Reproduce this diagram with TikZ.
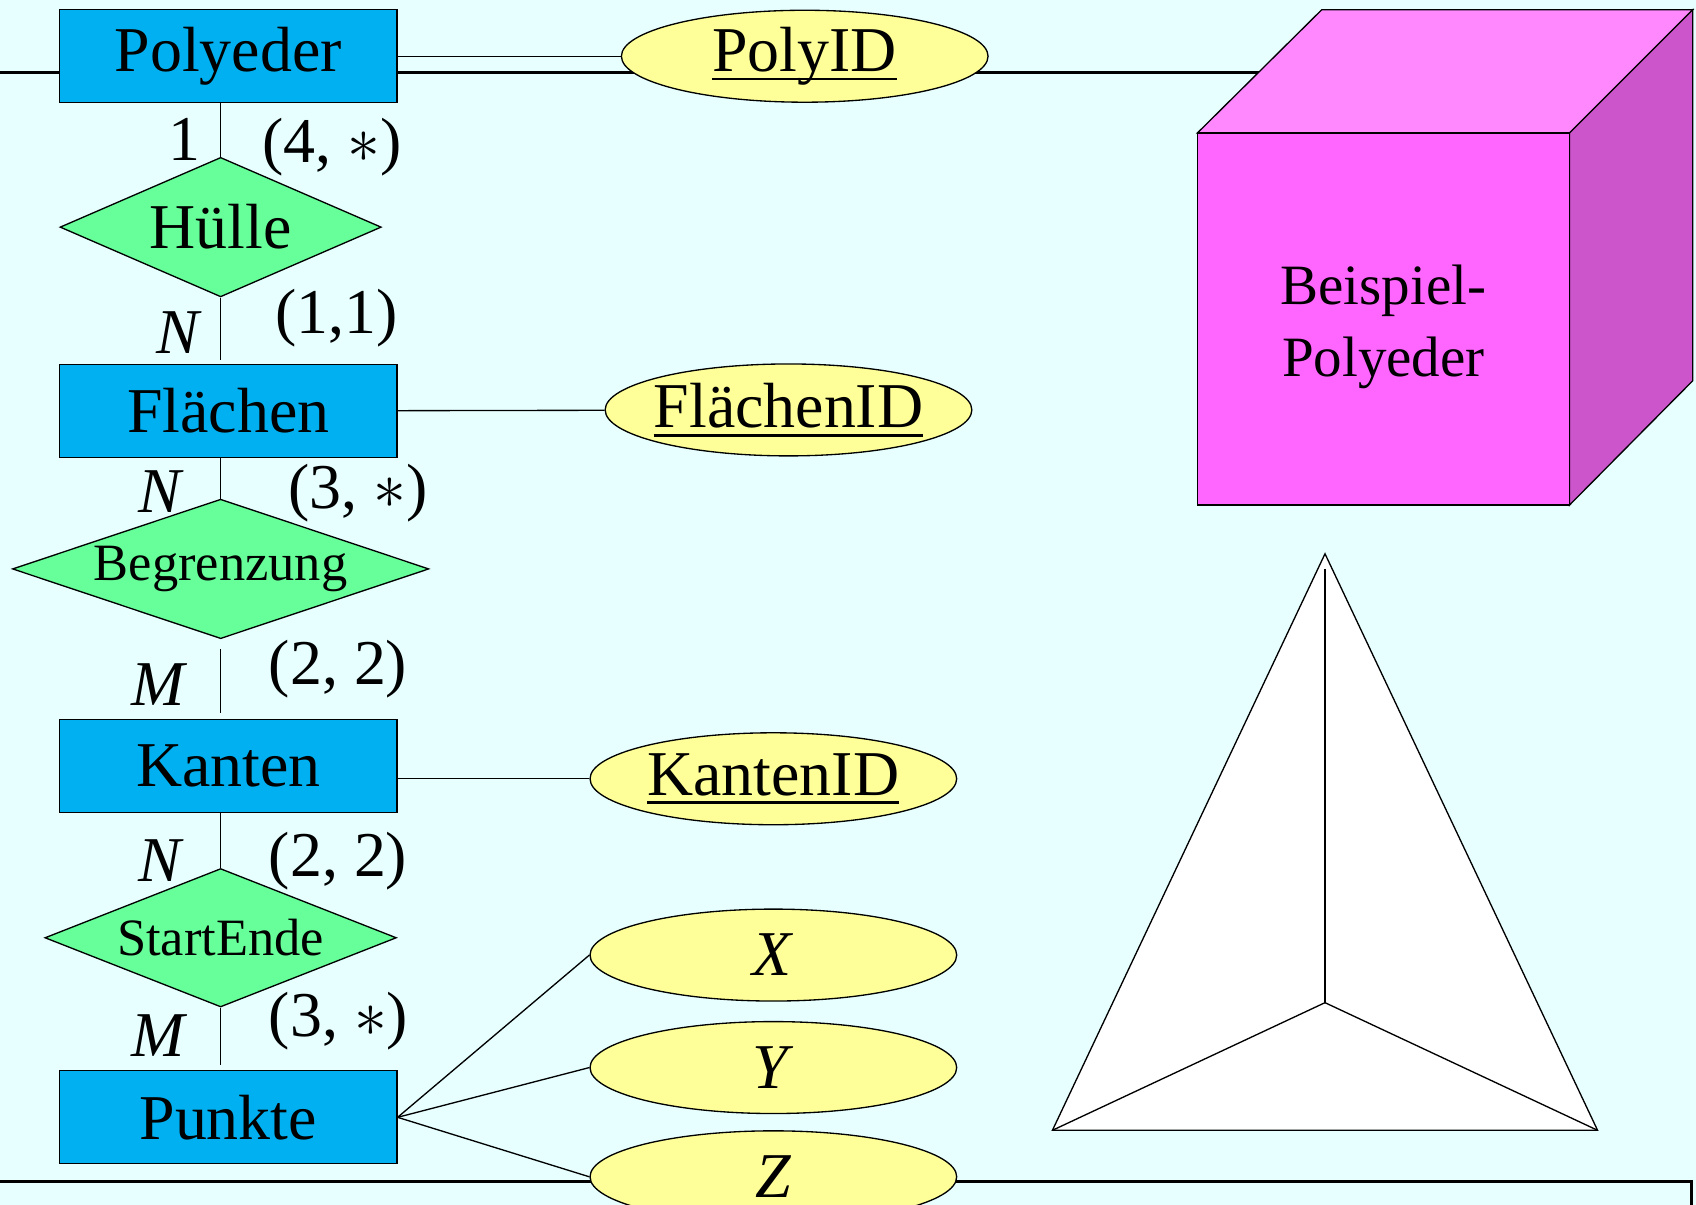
\documentclass[tikz,border=0pt]{standalone}
\usepackage{fontspec}
\setmainfont{Liberation Serif}
\usetikzlibrary{shapes.geometric}
\definecolor{slidebg}{HTML}{E8FFFF}
\definecolor{entblue}{HTML}{00B0F0}
\definecolor{relgreen}{HTML}{66FF99}
\definecolor{attryellow}{HTML}{FFFF99}
\definecolor{cubefront}{HTML}{FF66FF}
\definecolor{cubetop}{HTML}{FF88FF}
\definecolor{cubeside}{HTML}{CC55CC}
\newcommand{\bigfont}{\fontsize{16.8}{20}\selectfont}
\newcommand{\smallfont}{\fontsize{13.8}{16}\selectfont}
\newsavebox{\keybox}
\newcommand{\keyattr}[1]{\sbox\keybox{#1}\rlap{\rule[-0.14em]{\wd\keybox}{0.045em}}\usebox\keybox}
\begin{document}
\begin{tikzpicture}[x=0.1mm,y=-0.1mm,line width=0.35pt]
  \tikzstyle{entity}=[rectangle,draw,fill=entblue,minimum width=31.2mm,minimum height=8.6mm,inner sep=0pt,font=\bigfont]
  \tikzstyle{relation}=[diamond,draw,fill=relgreen,inner sep=0pt,minimum height=12.9mm]
  \tikzstyle{attribute}=[ellipse,draw,fill=attryellow,minimum width=33.9mm,minimum height=8.5mm,inner xsep=-0.5mm,inner ysep=0pt,font=\bigfont]
  \tikzstyle{card}=[font=\bigfont,inner sep=0pt]
  \tikzstyle{rule}=[draw,line width=0.75pt]
  \useasboundingbox (0,0) rectangle (1568,1114);
  \fill[slidebg] (0,0) rectangle (1568,1114);
  \clip (0,0) rectangle (1568,1114);

  % slide rules
  \draw[rule] (-10,1092) -- (1564,1092) -- (1564,1130);
  \draw[rule] (-10,67) -- (1200,67);

  % cube
  \filldraw[fill=cubetop] (1107,123) -- (1222,9) -- (1565,9) -- (1451,123) -- cycle;
  \filldraw[fill=cubeside] (1451,123) -- (1565,9) -- (1565,352) -- (1451,467) -- cycle;
  \filldraw[fill=cubefront] (1107,123) rectangle (1451,467);
  \node[font=\fontsize{15}{19}\selectfont,align=center] (example) at (1279,302) {Beispiel-\\Polyeder};

  % tetrahedron
  \coordinate (apex) at (1225,512);
  \coordinate (left) at (973,1045);
  \coordinate (right) at (1477,1045);
  \coordinate (inner) at (1225,927);
  \filldraw[fill=white] (apex) -- (left) -- (right) -- cycle;
  \draw (left) -- (inner) -- (right);
  \draw[line width=0.7pt] (1225,526) -- (inner);

  % entities
  \node[entity] (Polyeder) at (211,52) {Polyeder};
  \node[entity] (Flaechen) at (211,380) {Flächen};
  \node[entity] (Kanten) at (211,708) {Kanten};
  \node[entity] (Punkte) at (211,1033) {Punkte};

  % relationships
  \node[relation,minimum width=29.7mm,aspect=2.3,font=\bigfont] (Huelle) at (204,210) {Hülle};
  \node[relation,minimum width=38.5mm,aspect=3,font=\smallfont] (Begrenzung) at (204,526) {Begrenzung};
  \node[relation,minimum width=32.5mm,minimum height=12.8mm,aspect=2.5,font=\smallfont] (StartEnde) at (204,867) {StartEnde};

  % attributes
  \node[attribute] (PolyID) at (744,52) {\keyattr{PolyID}};
  \node[attribute] (FlaechenID) at (729,379) {\keyattr{FlächenID}};
  \node[attribute] (KantenID) at (715,720) {\keyattr{KantenID}};
  \node[attribute] (X) at (715,883) {\textit{X}};
  \node[attribute] (Y) at (715,987) {\textit{Y}};
  \node[attribute] (Z) at (715,1088) {\textit{Z}};

  % connections
  \draw (Polyeder) -- (PolyID);
  \draw (Flaechen) -- (FlaechenID);
  \draw (KantenID.west) -- (KantenID.west -| Kanten.east);
  \draw (Punkte.east) -- (X.west);
  \draw (Punkte.east) -- (Y.west);
  \draw (Punkte.east) -- (Z.west);
  \draw (Huelle.north) -- (Huelle.north |- Polyeder.south);
  \draw (Huelle.south) -- ([yshift=0.4mm]Huelle.south |- Flaechen.north);
  \draw (Begrenzung.north) -- (Begrenzung.north |- Flaechen.south);
  \draw ([yshift=-0.9mm]Begrenzung.south) -- ([yshift=0.5mm]Begrenzung.south |- Kanten.north);
  \draw (StartEnde.north) -- (StartEnde.north |- Kanten.south);
  \draw (StartEnde.south) -- ([yshift=0.5mm]StartEnde.south |- Punkte.north);

  % cardinalities
  \node[card,anchor=base east] (HuelleTop) at (186,148) {1};
  \node[card,anchor=base west] (HuelleTopMinMax) at (242,150) {(4, $\ast$)};
  \node[card,anchor=base east] (HuelleBottom) at (187,327) {\textit{N}};
  \node[card,anchor=base west] (HuelleBottomMinMax) at (254,308) {(1,1)};
  \node[card,anchor=base east] (BegrenzungTop) at (171,474) {\textit{N}};
  \node[card,anchor=base west] (BegrenzungTopMinMax) at (266,470) {(3, $\ast$)};
  \node[card,anchor=base east] (BegrenzungBottom) at (174,652) {\textit{M}};
  \node[card,anchor=base west] (BegrenzungBottomMinMax) at (248,633) {(2, 2)};
  \node[card,anchor=base east] (StartEndeTop) at (171,815) {\textit{N}};
  \node[card,anchor=base west] (StartEndeTopMinMax) at (248,810) {(2, 2)};
  \node[card,anchor=base east] (StartEndeBottom) at (174,977) {\textit{M}};
  \node[card,anchor=base west] (StartEndeBottomMinMax) at (248,958) {(3, $\ast$)};
\end{tikzpicture}
\end{document}
